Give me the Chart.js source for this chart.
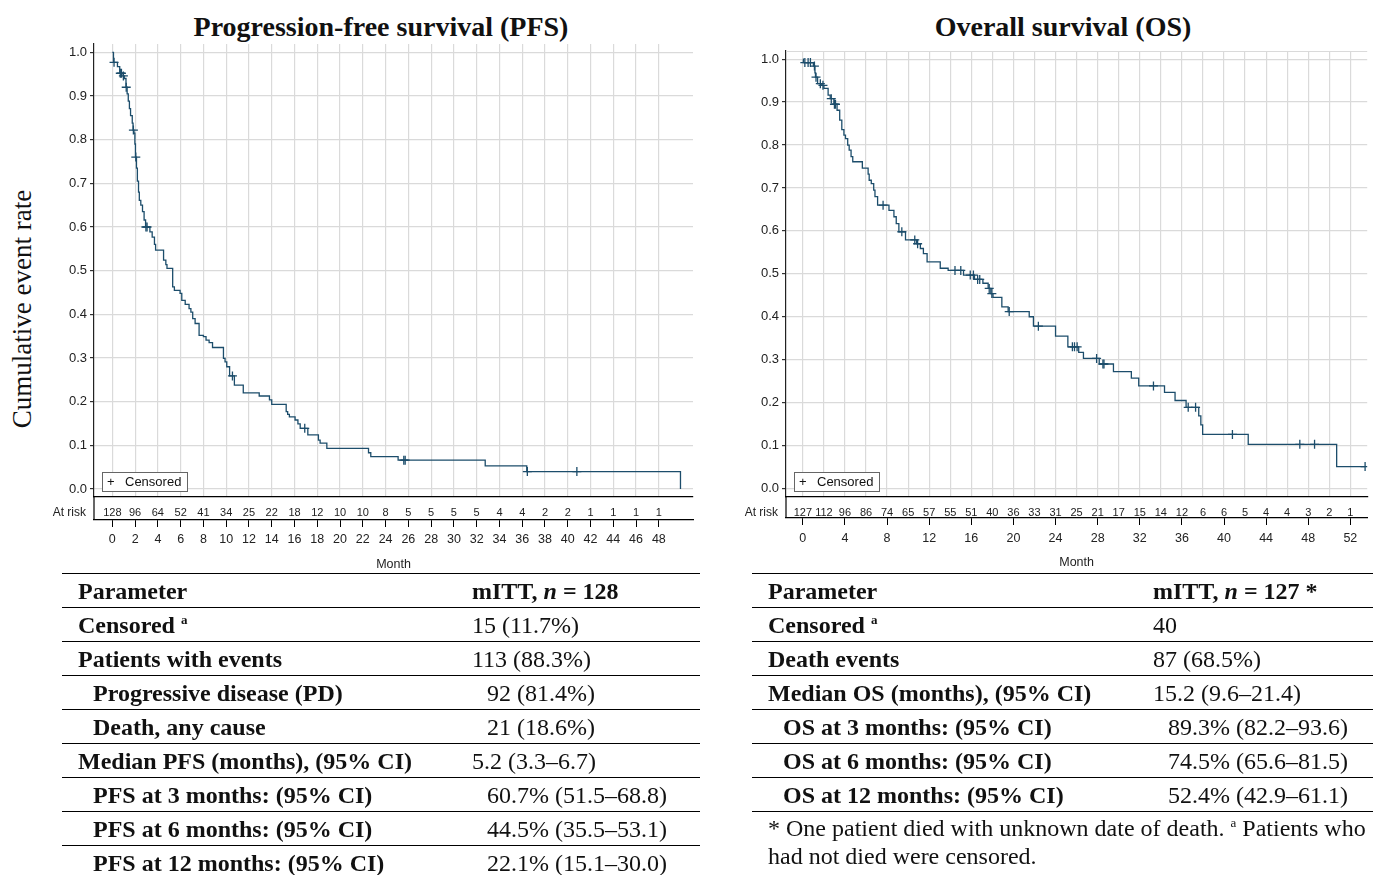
<!DOCTYPE html>
<html>
<head>
<meta charset="utf-8">
<script src="https://cdn.jsdelivr.net/npm/chart.js@4.4.1/dist/chart.umd.min.js"></script>
<style>
  body { margin: 0; background: #fff; width: 1373px; height: 875px; position: relative; overflow: hidden; font-family: "Liberation Serif", serif; color: #111; }
  canvas { position: absolute; top: 0; }
  .title { position: absolute; top: 11px; width: 600px; text-align: center; font: bold 28px "Liberation Serif", serif; }
  .ylab { position: absolute; left: 22px; top: 309px; transform: translate(-50%, -50%) rotate(-90deg); font: 27px "Liberation Serif", serif; white-space: nowrap; }
  .tbl { position: absolute; top: 573px; border-top: 1.5px solid #000; font-size: 24px; }
  .row { position: relative; height: 34px; box-sizing: border-box; border-bottom: 1px solid #000; line-height: 35px; white-space: nowrap; }
  .row .lab { position: absolute; left: 16px; font-weight: bold; }
  .row .val { position: absolute; }
  .row.ind .lab { left: 31px; }
  .row.hd .val { font-weight: bold; }
  sup { font-size: 13px; vertical-align: 9px; line-height: 0; }
  .note { position: absolute; left: 768px; top: 814px; font-size: 24px; line-height: 28px; white-space: nowrap; }
</style>
</head>
<body>
<div class="title" style="left:81px">Progression-free survival (PFS)</div>
<div class="title" style="left:763px">Overall survival (OS)</div>
<div class="ylab">Cumulative event rate</div>
<canvas id="pfs" width="700" height="575" style="left:0"></canvas>
<canvas id="os" width="681" height="573" style="left:692px"></canvas>
<div class="tbl" id="pfsTable" style="left:62px;width:638px"></div>
<div class="tbl" id="osTable" style="left:752px;width:621px"></div>
<div class="note">* One patient died with unknown date of death. <sup>a</sup> Patients who<br>had not died were censored.</div>
<script>
// ---- PFS Kaplan-Meier (month, survival after the drop) ----
const pfsTimes = [0, 0.1, 0.45, 0.65, 0.95, 1.05, 1.2, 1.3, 1.4, 1.5, 1.6, 1.75, 1.82, 1.9, 1.98, 2.03, 2.12, 2.2, 2.3, 2.37, 2.5, 2.65, 2.79, 2.92,
  3.3, 3.5, 3.7, 3.8, 4.5, 4.7, 4.8, 5.3, 5.45, 5.95, 6.1, 6.4, 6.74, 6.9, 7.06, 7.27, 7.62, 8.0, 8.23, 8.5, 8.8, 9.76, 9.9, 10.05, 10.3, 10.72,
  11.5, 12.9, 13.8, 14.0, 15.27, 15.4, 15.55, 16.05, 16.3, 16.5, 17.17, 18.1, 18.25, 18.84, 22.5, 22.7, 25.1, 32.75, 36.4, 49.9];
const pfsSurv = [1.0, 0.977, 0.967, 0.952, 0.946, 0.940, 0.920, 0.905, 0.888, 0.871, 0.855, 0.838, 0.822, 0.815, 0.790, 0.760, 0.735, 0.705, 0.680, 0.661, 0.650, 0.635, 0.616, 0.600,
  0.589, 0.577, 0.560, 0.547, 0.524, 0.514, 0.505, 0.463, 0.455, 0.448, 0.432, 0.423, 0.413, 0.405, 0.390, 0.379, 0.352, 0.349, 0.341, 0.335, 0.324, 0.299, 0.291, 0.280, 0.259, 0.238,
  0.220, 0.213, 0.204, 0.194, 0.177, 0.171, 0.165, 0.158, 0.149, 0.139, 0.124, 0.112, 0.105, 0.093, 0.083, 0.074, 0.066, 0.053, 0.040, 0.0];
const pfsCensored = [0.15, 0.7, 0.8, 0.97, 1.22, 1.85, 2.06, 2.95, 3.05, 10.55, 16.9, 25.6, 25.72, 36.45, 40.8];
const pfsRiskMonths = [0, 2, 4, 6, 8, 10, 12, 14, 16, 18, 20, 22, 24, 26, 28, 30, 32, 34, 36, 38, 40, 42, 44, 46, 48];
const pfsAtRisk = [128, 96, 64, 52, 41, 34, 25, 22, 18, 12, 10, 10, 8, 5, 5, 5, 5, 4, 4, 2, 2, 1, 1, 1, 1];
const pfsMonthTicks = [0, 2, 4, 6, 8, 10, 12, 14, 16, 18, 20, 22, 24, 26, 28, 30, 32, 34, 36, 38, 40, 42, 44, 46, 48];

// ---- OS Kaplan-Meier ----
const osTimes = [0, 0.05, 1.0, 1.15, 1.2, 1.4, 1.8, 2.0, 2.4, 2.6, 2.95, 3.25, 3.5, 3.7, 3.9, 4.05, 4.26, 4.4, 4.58, 4.74, 5.65, 6.2, 6.3, 6.5, 6.73, 6.85, 7.1,
  8.18, 8.65, 8.87, 9.12, 9.75, 10.8, 11.16, 11.45, 11.8, 13.05, 13.8, 15.26, 16.3, 17.1, 17.6, 17.85, 18.06, 18.9, 19.5, 21.5, 21.9, 24.0, 25.17,
  26.2, 26.65, 28.15, 29.5, 31.2, 31.9, 34.35, 35.35, 36.4, 37.6, 37.8, 37.97, 42.3, 50.7, 53.4];
const osSurv = [1.0, 0.992, 0.984, 0.968, 0.958, 0.943, 0.939, 0.932, 0.916, 0.908, 0.895, 0.881, 0.858, 0.836, 0.823, 0.815, 0.800, 0.788, 0.773, 0.761, 0.746, 0.732, 0.718, 0.710, 0.695, 0.680, 0.660,
  0.648, 0.633, 0.617, 0.598, 0.579, 0.570, 0.559, 0.547, 0.528, 0.513, 0.508, 0.497, 0.487, 0.478, 0.466, 0.454, 0.445, 0.423, 0.412, 0.400, 0.378, 0.355, 0.330,
  0.317, 0.303, 0.290, 0.272, 0.257, 0.239, 0.224, 0.205, 0.189, 0.169, 0.148, 0.126, 0.103, 0.051, 0.051];
const osCensored = [0.19, 0.5, 0.72, 1.1, 1.25, 1.66, 1.91, 2.7, 3.0, 3.1, 7.62, 9.4, 10.63, 10.9, 14.45, 15.0, 15.9, 16.2, 16.6, 16.8, 17.7, 17.95,
  19.6, 22.37, 25.6, 25.8, 26.05, 27.9, 28.5, 28.6, 33.3, 36.6, 37.3, 40.8, 47.2, 48.6, 53.4];
const osRiskMonths = [0, 2, 4, 6, 8, 10, 12, 14, 16, 18, 20, 22, 24, 26, 28, 30, 32, 34, 36, 38, 40, 42, 44, 46, 48, 50, 52];
const osAtRisk = [127, 112, 96, 86, 74, 65, 57, 55, 51, 40, 36, 33, 31, 25, 21, 17, 15, 14, 12, 6, 6, 5, 4, 4, 3, 2, 1];
const osMonthTicks = [0, 4, 8, 12, 16, 20, 24, 28, 32, 36, 40, 44, 48, 52];

const yTickValues = [0, 0.1, 0.2, 0.3, 0.4, 0.5, 0.6, 0.7, 0.8, 0.9, 1.0];

// ---- tables: [label, value, indented] ----
const pfsRows = [
  ['Parameter', 'mITT, <i>n</i> = 128', false],
  ['Censored <sup>a</sup>', '15 (11.7%)', false],
  ['Patients with events', '113 (88.3%)', false],
  ['Progressive disease (PD)', '92 (81.4%)', true],
  ['Death, any cause', '21 (18.6%)', true],
  ['Median PFS (months), (95% CI)', '5.2 (3.3–6.7)', false],
  ['PFS at 3 months: (95% CI)', '60.7% (51.5–68.8)', true],
  ['PFS at 6 months: (95% CI)', '44.5% (35.5–53.1)', true],
  ['PFS at 12 months: (95% CI)', '22.1% (15.1–30.0)', true]
];
const osRows = [
  ['Parameter', 'mITT, <i>n</i> = 127 *', false],
  ['Censored <sup>a</sup>', '40', false],
  ['Death events', '87 (68.5%)', false],
  ['Median OS (months), (95% CI)', '15.2 (9.6–21.4)', false],
  ['OS at 3 months: (95% CI)', '89.3% (82.2–93.6)', true],
  ['OS at 6 months: (95% CI)', '74.5% (65.6–81.5)', true],
  ['OS at 12 months: (95% CI)', '52.4% (42.9–61.1)', true]
];

const lineColor = '#1c4d6b';
const gridColor = '#dadada';
const sansFont = '"Liberation Sans", Arial, sans-serif';

function survAt(times, surv, t) {
  let s = surv[0];
  for (let i = 0; i < times.length; i++) {
    if (times[i] <= t) s = surv[i];
  }
  return s;
}

function fillTable(id, rows, valLeft) {
  const el = document.getElementById(id);
  rows.forEach((r, i) => {
    const d = document.createElement('div');
    d.className = 'row' + (i === 0 ? ' hd' : '') + (r[2] ? ' ind' : '');
    d.innerHTML = '<span class="lab">' + r[0] + '</span><span class="val" style="left:' + (valLeft + (r[2] ? 15 : 0)) + 'px">' + r[1] + '</span>';
    el.appendChild(d);
  });
}
fillTable('pfsTable', pfsRows, 410);
fillTable('osTable', osRows, 401);

// at-risk label, left rule of the at-risk strip, censored legend box
const kmDecor = {
  id: 'kmDecor',
  afterDraw(chart, args, opts) {
    const { ctx, chartArea } = chart;
    const xs = chart.scales.x, x2 = chart.scales.x2;
    ctx.save();
    if (opts.topBorder) {
      ctx.strokeStyle = gridColor;
      ctx.lineWidth = 1;
      ctx.beginPath();
      ctx.moveTo(chartArea.left, chartArea.top + 0.5);
      ctx.lineTo(chartArea.right, chartArea.top + 0.5);
      ctx.stroke();
    }
    ctx.strokeStyle = '#000';
    ctx.lineWidth = 1.2;
    ctx.beginPath();
    ctx.moveTo(chartArea.left, xs.top);
    ctx.lineTo(chartArea.left, x2.top);
    ctx.stroke();

    ctx.fillStyle = '#222';
    ctx.font = '12px ' + sansFont;
    ctx.textAlign = 'right';
    ctx.textBaseline = 'middle';
    ctx.fillText('At risk', chartArea.left - 8, xs.top + 16);

    const bx = chartArea.left + 8, by = chartArea.bottom - 25, bw = 85, bh = 19;
    ctx.fillStyle = '#fff';
    ctx.fillRect(bx, by, bw, bh);
    ctx.strokeStyle = '#666';
    ctx.lineWidth = 1;
    ctx.strokeRect(bx + 0.5, by + 0.5, bw, bh);
    ctx.fillStyle = '#111';
    ctx.font = '13px ' + sansFont;
    ctx.textAlign = 'left';
    ctx.fillText('+', bx + 5, by + bh / 2 + 1);
    ctx.fillText('Censored', bx + 23, by + bh / 2 + 1);
    ctx.restore();
  }
};

function kmChart(id, c) {
  new Chart(document.getElementById(id), {
    type: 'line',
    data: {
      datasets: [
        {
          data: c.times.map((t, i) => ({ x: t, y: c.surv[i] })),
          stepped: true,
          borderColor: lineColor,
          borderWidth: 1.3,
          pointRadius: 0,
          fill: false
        },
        {
          data: c.censored.map(t => ({ x: t, y: survAt(c.times, c.surv, t) })),
          showLine: false,
          pointStyle: 'cross',
          pointRadius: 4.5,
          borderColor: lineColor,
          borderWidth: 1.3
        }
      ]
    },
    options: {
      responsive: false,
      animation: false,
      devicePixelRatio: 1,
      layout: { padding: { left: 54, right: c.padRight, top: c.padTop, bottom: 0 } },
      plugins: {
        legend: { display: false },
        tooltip: { enabled: false },
        kmDecor: { topBorder: c.topBorder }
      },
      scales: {
        y: {
          min: c.yMin, max: 1.019,
          afterBuildTicks: ax => { ax.ticks = yTickValues.map(v => ({ value: v })); },
          afterFit: ax => { ax.width = 40; },
          ticks: { callback: v => v.toFixed(1), color: '#222', padding: 3, font: { family: sansFont, size: 13 } },
          grid: { color: gridColor, lineWidth: 1.2, tickColor: '#333', tickLength: 4 },
          border: { color: '#222', width: 1.2 }
        },
        x: {
          type: 'linear', position: 'bottom', weight: 0,
          min: c.xMin, max: c.xMax,
          afterBuildTicks: ax => { ax.ticks = c.riskMonths.map(v => ({ value: v })); },
          afterFit: ax => { ax.height = c.riskHeight; },
          ticks: {
            autoSkip: false, maxRotation: 0, padding: c.riskPad, color: '#222',
            font: { family: sansFont, size: 11 },
            callback: v => c.atRisk[c.riskMonths.indexOf(v)]
          },
          grid: { color: gridColor, lineWidth: 1.2, drawTicks: false },
          border: { color: '#000', width: 1.2 }
        },
        x2: {
          type: 'linear', position: 'bottom', weight: 1,
          min: c.xMin, max: c.xMax,
          afterBuildTicks: ax => { ax.ticks = c.monthTicks.map(v => ({ value: v })); },
          afterFit: ax => { ax.height = c.monthHeight; },
          ticks: { autoSkip: false, maxRotation: 0, padding: c.monthPad, color: '#222', font: { family: sansFont, size: 12.5 } },
          grid: { drawOnChartArea: false, tickColor: '#000', tickLength: 7 },
          border: { color: '#000', width: 1.2 },
          title: { display: true, text: 'Month', color: '#222', font: { family: sansFont, size: 12.5 }, padding: { top: 0, bottom: 3 } }
        }
      }
    },
    plugins: [kmDecor]
  });
}

kmChart('pfs', {
  times: pfsTimes, surv: pfsSurv, censored: pfsCensored,
  riskMonths: pfsRiskMonths, atRisk: pfsAtRisk, monthTicks: pfsMonthTicks,
  xMin: -1.61, xMax: 51.0, yMin: -0.0183,
  padTop: 44, padRight: 7, riskHeight: 23, monthHeight: 55, riskPad: 9, monthPad: 5, topBorder: false
});
kmChart('os', {
  times: osTimes, surv: osSurv, censored: osCensored,
  riskMonths: osRiskMonths, atRisk: osAtRisk, monthTicks: osMonthTicks,
  xMin: -1.6, xMax: 53.6, yMin: -0.0198,
  padTop: 51, padRight: 0, riskHeight: 21, monthHeight: 55, riskPad: 9, monthPad: 6, topBorder: true
});
</script>
</body>
</html>
